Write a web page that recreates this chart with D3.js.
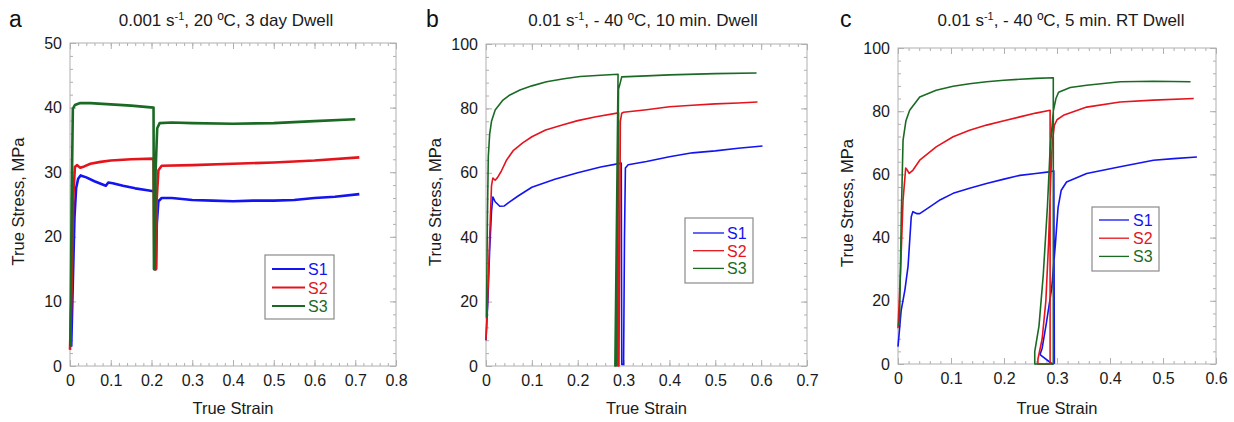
<!DOCTYPE html>
<html>
<head>
<meta charset="utf-8">
<script src="https://cdn.jsdelivr.net/npm/d3@7/dist/d3.min.js"></script>
<style>
body{margin:0;background:#fff;}
text{font-family:"Liberation Sans",Arial,sans-serif;}
</style>
</head>
<body>
<div id="chart"></div>
<script>
// series names / colours (same in every panel)
let seriesNames = ["S1", "S2", "S3"];
let seriesColors = ["#1414f0", "#e5141c", "#1b6a24"];

// panel a : 0.001 s-1, 20 C, 3 day dwell   [strain, stress MPa]
let aS1 = [[0.003,3],[0.007,13],[0.011,23],[0.015,27.5],[0.02,29.0],[0.026,29.5],[0.04,29.2],[0.06,28.6],[0.08,28.1],[0.088,27.9],[0.094,28.4],[0.105,28.3],[0.13,27.9],[0.16,27.5],[0.19,27.2],[0.208,27.0],[0.209,15],[0.211,15],[0.213,22],[0.217,25.5],[0.225,26.0],[0.25,26.0],[0.3,25.7],[0.35,25.6],[0.4,25.5],[0.45,25.6],[0.5,25.6],[0.55,25.7],[0.6,26.0],[0.65,26.2],[0.71,26.6]];
let aS2 = [[0,2.5],[0.004,12],[0.008,26],[0.012,30.8],[0.017,31.1],[0.025,30.7],[0.035,30.9],[0.05,31.3],[0.075,31.6],[0.1,31.8],[0.15,32.0],[0.205,32.1],[0.207,15],[0.211,15],[0.213,26],[0.217,30.3],[0.225,31.0],[0.3,31.1],[0.4,31.3],[0.5,31.5],[0.6,31.8],[0.71,32.3]];
let aS3 = [[0.001,3],[0.004,25],[0.007,39.8],[0.012,40.4],[0.025,40.7],[0.05,40.7],[0.1,40.5],[0.15,40.3],[0.205,40.0],[0.206,15],[0.208,15],[0.21,30],[0.214,36.8],[0.22,37.6],[0.25,37.7],[0.3,37.6],[0.4,37.5],[0.5,37.6],[0.6,37.9],[0.7,38.2]];

// panel b : 0.01 s-1, -40 C, 10 min dwell
let bS1 = [[0,8],[0.004,20],[0.008,36],[0.012,48],[0.015,52.5],[0.02,51],[0.03,49.6],[0.04,49.7],[0.05,50.8],[0.07,52.8],[0.1,55.5],[0.15,58],[0.2,60],[0.25,61.8],[0.295,63],[0.296,0.5],[0.3,0.5],[0.302,40],[0.304,61.5],[0.31,62.5],[0.35,63.5],[0.4,65],[0.45,66.2],[0.5,66.8],[0.55,67.6],[0.603,68.3]];
let bS2 = [[0,8],[0.004,22],[0.008,40],[0.012,56],[0.015,58.4],[0.02,57.7],[0.025,58.5],[0.033,60.4],[0.045,64],[0.06,67],[0.08,69.3],[0.1,71.2],[0.13,73.3],[0.17,75],[0.2,76.2],[0.24,77.4],[0.289,78.6],[0.287,0],[0.29,0],[0.293,76],[0.296,78.5],[0.3,78.8],[0.35,79.6],[0.4,80.5],[0.45,81],[0.5,81.4],[0.55,81.7],[0.592,82]];
let bS3 = [[0.001,15],[0.003,45],[0.005,65],[0.008,72],[0.012,76],[0.02,79.5],[0.037,82.6],[0.05,84],[0.074,85.7],[0.1,87],[0.132,88.3],[0.17,89.2],[0.205,89.9],[0.25,90.3],[0.288,90.6],[0.281,0],[0.284,0],[0.289,86],[0.291,87],[0.296,89.8],[0.35,90.1],[0.4,90.4],[0.5,90.8],[0.59,91]];

// panel c : 0.01 s-1, -40 C, 5 min RT dwell
let cS1 = [[0,5.5],[0.006,17],[0.013,23.4],[0.019,31],[0.025,46.6],[0.028,48.2],[0.035,47.6],[0.041,47.6],[0.06,49.7],[0.08,52],[0.104,54],[0.135,55.6],[0.167,57.1],[0.2,58.5],[0.23,59.7],[0.26,60.3],[0.285,60.8],[0.294,61.1],[0.295,0.3],[0.291,0],[0.268,3],[0.272,5],[0.28,13],[0.29,24],[0.297,38],[0.302,49.5],[0.308,55],[0.318,57.6],[0.356,60.3],[0.419,62.4],[0.482,64.5],[0.52,65],[0.564,65.5]];
let cS2 = [[0,11.3],[0.005,30],[0.0095,51.8],[0.0145,62],[0.017,61.5],[0.021,60.3],[0.028,61.3],[0.041,64.5],[0.072,68.7],[0.104,71.9],[0.135,74],[0.167,75.6],[0.2,77],[0.23,78.2],[0.26,79.4],[0.287,80.3],[0.287,0],[0.264,0],[0.264,1.5],[0.272,8],[0.279,20],[0.284,38],[0.288,58],[0.291,70],[0.295,75.5],[0.3,77.3],[0.312,78.7],[0.356,81.3],[0.419,82.9],[0.482,83.5],[0.558,84]];
let cS3 = [[0.001,12],[0.003,14],[0.006,45],[0.0095,70.8],[0.015,77],[0.022,80.3],[0.041,84.5],[0.072,86.6],[0.104,87.9],[0.135,88.7],[0.167,89.3],[0.2,89.8],[0.23,90.1],[0.26,90.4],[0.293,90.6],[0.293,0],[0.258,0],[0.258,3.9],[0.266,12],[0.274,28],[0.282,50],[0.287,68],[0.293,80],[0.298,84],[0.303,86],[0.325,87.5],[0.356,88.2],[0.419,89.3],[0.482,89.5],[0.552,89.3]];

// axis ranges and labels
let xDomains = [[0, 0.8], [0, 0.7], [0, 0.6]];
let yDomains = [[0, 50], [0, 100], [0, 100]];
let yMajorStep = [10, 20, 20];
let panelLetters = ["a", "b", "c"];
let titleMain = ["0.001 s", "0.01 s", "0.01 s"];
let titleRest = [", 20 \u00BAC, 3 day Dwell", ", - 40 \u00BAC, 10 min. Dwell", ", - 40 \u00BAC, 5 min. RT Dwell"];
let xLabel = "True Strain";
let yLabel = "True Stress, MPa";

let W = 1234, H = 422;
let frameColor = "#b0b0b0";

// layout of each panel (pixels)
let panels = [
  {left: 70, right: 396, top: 43, bottom: 366, lineW: 2.6, yLabX: 24, letterX: 9, titleX: 226,
   leg: {x: 265, y: 255, w: 69, h: 64, row0: 269, rowH: 18.5, lx0: 272, lx1: 305, tx: 308},
   data: [aS1, aS2, aS3]},
  {left: 486, right: 807, top: 44, bottom: 366, lineW: 1.6, yLabX: 441, letterX: 426, titleX: 643,
   leg: {x: 685, y: 218, w: 68, h: 65, row0: 233, rowH: 17.7, lx0: 693, lx1: 724, tx: 727},
   data: [bS1, bS2, bS3]},
  {left: 898, right: 1216, top: 48, bottom: 364, lineW: 1.6, yLabX: 853, letterX: 840, titleX: 1061,
   leg: {x: 1092, y: 207, w: 67, h: 64, row0: 220, rowH: 18.2, lx0: 1099, lx1: 1129, tx: 1133},
   data: [cS1, cS2, cS3]}
];

let svg = d3.select("#chart").append("svg")
  .attr("width", W)
  .attr("height", H);

svg.append("rect").attr("width", W).attr("height", H).attr("fill", "#fff");

function styleAxis(g){
  g.select(".domain").remove();
  g.selectAll(".tick line").attr("stroke", frameColor);
  g.selectAll(".tick text").style("font-size", "16px").attr("fill", "#1a1a1a");
}

function steps(d0, d1, step){
  let n = Math.round((d1 - d0) / step);
  return d3.range(n + 1).map(function(i){ return +(d0 + i * step).toFixed(4); });
}

function drawPanel(p, i){
  let x = d3.scaleLinear().domain(xDomains[i]).range([p.left, p.right]);
  let y = d3.scaleLinear().domain(yDomains[i]).range([p.bottom, p.top]);
  let g = svg.append("g").attr("class", "panel" + i);

  let xMajor = steps(xDomains[i][0], xDomains[i][1], 0.1);
  let xMinor = steps(xDomains[i][0], xDomains[i][1], 0.02);
  let yMajor = steps(yDomains[i][0], yDomains[i][1], yMajorStep[i]);
  let yMinor = steps(yDomains[i][0], yDomains[i][1], yMajorStep[i] / 5);
  let fmtX = function(d){ return d === 0 ? "0" : d3.format(".1f")(d); };

  // minor ticks all round
  g.append("g").attr("transform", "translate(0," + p.bottom + ")")
    .call(d3.axisBottom(x).tickValues(xMinor).tickSize(-3).tickFormat("")).call(styleAxis);
  g.append("g").attr("transform", "translate(0," + p.top + ")")
    .call(d3.axisTop(x).tickValues(xMinor).tickSize(-3).tickFormat("")).call(styleAxis);
  g.append("g").attr("transform", "translate(" + p.left + ",0)")
    .call(d3.axisLeft(y).tickValues(yMinor).tickSize(-3).tickFormat("")).call(styleAxis);
  g.append("g").attr("transform", "translate(" + p.right + ",0)")
    .call(d3.axisRight(y).tickValues(yMinor).tickSize(-3).tickFormat("")).call(styleAxis);

  // major ticks
  g.append("g").attr("transform", "translate(0," + p.bottom + ")")
    .call(d3.axisBottom(x).tickValues(xMajor).tickSize(-6).tickPadding(9).tickFormat(fmtX)).call(styleAxis);
  g.append("g").attr("transform", "translate(0," + p.top + ")")
    .call(d3.axisTop(x).tickValues(xMajor).tickSize(-6).tickFormat("")).call(styleAxis);
  g.append("g").attr("transform", "translate(" + p.left + ",0)")
    .call(d3.axisLeft(y).tickValues(yMajor).tickSize(-6).tickPadding(8).tickFormat(d3.format("d"))).call(styleAxis);
  g.append("g").attr("transform", "translate(" + p.right + ",0)")
    .call(d3.axisRight(y).tickValues(yMajor).tickSize(-6).tickFormat("")).call(styleAxis);

  g.append("rect")
    .attr("x", p.left).attr("y", p.top)
    .attr("width", p.right - p.left).attr("height", p.bottom - p.top)
    .attr("fill", "none").attr("stroke", frameColor).attr("stroke-width", 1);

  // curves
  let line = d3.line()
    .x(function(d){ return x(d[0]); })
    .y(function(d){ return y(d[1]); });

  g.selectAll(".curve")
    .data(p.data)
    .enter().append("path")
    .attr("class", "curve")
    .attr("d", function(d){ return line(d); })
    .attr("fill", "none")
    .attr("stroke", function(d, k){ return seriesColors[k]; })
    .attr("stroke-width", p.lineW)
    .attr("stroke-linejoin", "round");

  // labels
  let cx = (p.left + p.right) / 2;
  g.append("text").attr("x", cx).attr("y", 414)
    .attr("text-anchor", "middle").style("font-size", "16.5px").attr("fill", "#1a1a1a")
    .text(xLabel);
  g.append("text")
    .attr("transform", "translate(" + p.yLabX + "," + ((p.top + p.bottom) / 2 - 3) + ") rotate(-90)")
    .attr("text-anchor", "middle").style("font-size", "16.5px").attr("fill", "#1a1a1a")
    .text(yLabel);

  let title = g.append("text").attr("x", p.titleX).attr("y", 26)
    .attr("text-anchor", "middle").style("font-size", "17px").attr("fill", "#1a1a1a");
  title.append("tspan").text(titleMain[i]);
  title.append("tspan").attr("dy", -6).style("font-size", "11px").text("-1");
  title.append("tspan").attr("dy", 6).text(titleRest[i]);

  g.append("text").attr("x", p.letterX).attr("y", 27)
    .style("font-size", "23px").attr("fill", "#111")
    .text(panelLetters[i]);

  // legend
  let L = p.leg;
  g.append("rect").attr("x", L.x).attr("y", L.y).attr("width", L.w).attr("height", L.h)
    .attr("fill", "#fff").attr("stroke", "#8a8a8a").attr("stroke-width", 1.2);
  let rows = g.selectAll(".leg").data(seriesNames).enter().append("g").attr("class", "leg");
  rows.append("line")
    .attr("x1", L.lx0).attr("x2", L.lx1)
    .attr("y1", function(d, k){ return L.row0 + k * L.rowH; })
    .attr("y2", function(d, k){ return L.row0 + k * L.rowH; })
    .attr("stroke", function(d, k){ return seriesColors[k]; })
    .attr("stroke-width", p.lineW > 2 ? 2 : 1.3);
  rows.append("text")
    .attr("x", L.tx)
    .attr("y", function(d, k){ return L.row0 + k * L.rowH + 6; })
    .style("font-size", "16px")
    .attr("fill", function(d, k){ return seriesColors[k]; })
    .text(function(d){ return d; });
}

panels.forEach(drawPanel);
</script>
</body>
</html>
